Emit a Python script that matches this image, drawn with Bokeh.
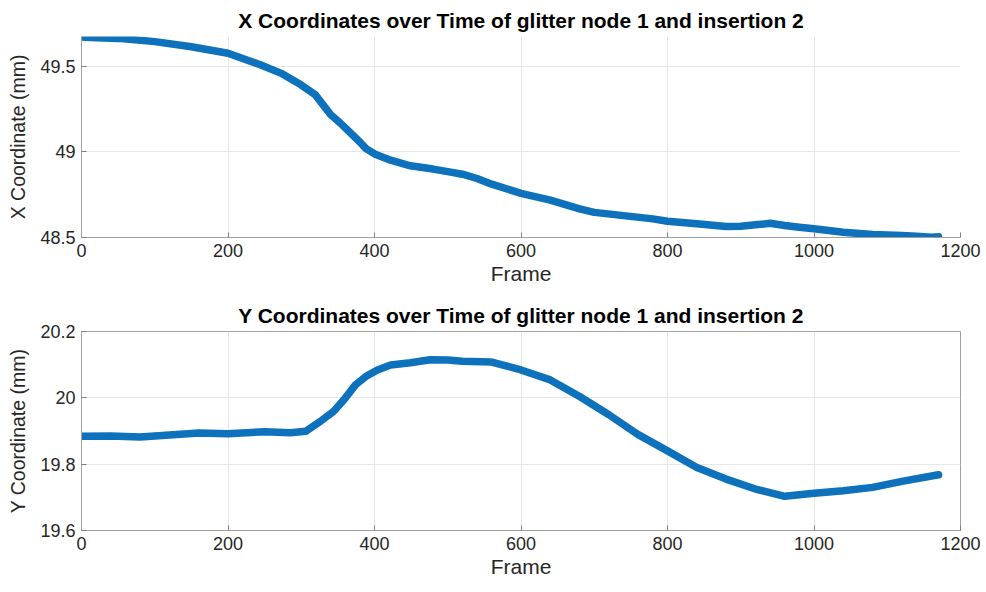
from bokeh.plotting import figure
from bokeh.layouts import column
from bokeh.models import Range1d, FixedTicker
from bokeh.embed import file_html
from bokeh.resources import INLINE

# X coordinate over time (frame, mm)
frames_x = [0, 20, 50, 100, 150, 200, 244, 272, 299, 319, 333, 340, 353, 367, 381, 388, 401,
            422, 449, 480, 500, 520, 540, 560, 600, 640, 680, 700, 740, 780, 800, 840,
            880, 900, 920, 940, 960, 980, 1000, 1040, 1080, 1120, 1140, 1160, 1170]
x_mm = [49.672, 49.668, 49.664, 49.645, 49.615, 49.577, 49.51, 49.461, 49.394, 49.335, 49.258,
        49.219, 49.17, 49.112, 49.054, 49.021, 48.987, 48.952, 48.919, 48.90, 48.885, 48.87,
        48.845, 48.812, 48.758, 48.719, 48.667, 48.647, 48.628, 48.609, 48.595, 48.580, 48.564,
        48.566, 48.574, 48.583, 48.570, 48.560, 48.551, 48.531, 48.517, 48.512, 48.507, 48.502,
        48.505]

# Y coordinate over time (frame, mm)
frames_y = [0, 40, 80, 120, 160, 200, 250, 285, 306, 326, 344, 360, 374, 388, 404, 422, 449,
            476, 500, 520, 560, 600, 640, 680, 720, 760, 800, 840, 880, 920, 960, 1000, 1040,
            1080, 1120, 1170]
y_mm = [19.884, 19.885, 19.882, 19.888, 19.894, 19.892, 19.898, 19.895, 19.899, 19.929, 19.959,
        19.999, 20.039, 20.064, 20.084, 20.099, 20.106, 20.115, 20.114, 20.110, 20.108, 20.084,
        20.054, 20.004, 19.949, 19.889, 19.840, 19.790, 19.755, 19.725, 19.703, 19.712, 19.720,
        19.730, 19.748, 19.768]

x_ticks = [0, 200, 400, 600, 800, 1000, 1200]
top_ticks = [48.5, 49, 49.5]
bot_ticks = [19.6, 19.8, 20, 20.2]

BLUE = "#0d72bb"
FONT = "Liberation Sans"


def make(title, ylabel, xs, ys, yr, yticks, boxed, top_border, bottom_border):
    p = figure(width=986, height=296, output_backend="svg", toolbar_location=None,
               x_range=Range1d(0, 1200), y_range=Range1d(*yr),
               min_border_left=81, min_border_right=26,
               min_border_top=top_border, min_border_bottom=bottom_border)
    p.title.text = title
    p.title.align = "center"
    p.title.text_font = FONT
    p.title.text_font_size = "21px"
    p.title.text_font_style = "bold"
    p.title.text_color = "#000000"
    p.line(xs, ys, line_width=7.5, line_color=BLUE, line_join="round", line_cap="round")
    p.xaxis.ticker = FixedTicker(ticks=x_ticks)
    p.yaxis.ticker = FixedTicker(ticks=yticks)
    p.yaxis.major_label_overrides = {t: (f"{t:g}") for t in yticks}
    for ax in (p.xaxis[0], p.yaxis[0]):
        ax.axis_line_color = "#a0a0a0"
        ax.major_tick_line_color = "#808080"
        ax.major_tick_in = 5
        ax.major_tick_out = 0
        ax.minor_tick_line_color = None
        ax.major_label_text_font = FONT
        ax.major_label_text_font_size = "18px"
        ax.major_label_text_color = "#262626"
        ax.axis_label_text_font = FONT
        ax.axis_label_text_font_style = "normal"
        ax.axis_label_text_color = "#262626"
    p.xaxis.axis_label = "Frame"
    p.xaxis.axis_label_text_font_size = "21px"
    p.yaxis.axis_label = ylabel
    p.yaxis.axis_label_text_font_size = "19.5px"
    p.xaxis.major_label_standoff = 6
    p.xaxis.axis_label_standoff = 2
    p.yaxis.major_label_standoff = 6
    p.yaxis.axis_label_standoff = 8
    p.grid.grid_line_color = "#e6e6e6"
    p.grid.grid_line_width = 1
    if boxed:
        p.outline_line_color = "#a0a0a0"
        p.outline_line_width = 1
    else:
        p.outline_line_color = None
    p.background_fill_color = "white"
    p.border_fill_color = "white"
    return p


p1 = make("X Coordinates over Time of glitter node 1 and insertion 2", "X Coordinate (mm)",
          frames_x, x_mm, (48.5, 49.675), top_ticks, False, 36, 59)
p2 = make("Y Coordinates over Time of glitter node 1 and insertion 2", "Y Coordinate (mm)",
          frames_y, y_mm, (19.6, 20.2), bot_ticks, True, 33, 62)

layout = column(p1, p2, spacing=0)
open("out.html", "w").write(file_html(layout, INLINE))
